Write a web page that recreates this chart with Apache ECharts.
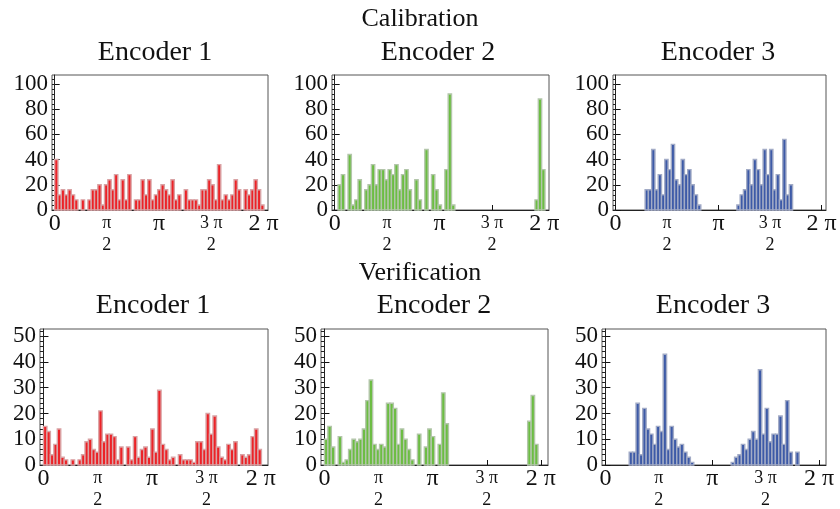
<!DOCTYPE html>
<html>
<head>
<meta charset="utf-8">
<script src="https://cdn.jsdelivr.net/npm/echarts@6/dist/echarts.min.js"></script>
<style>
  html, body { margin: 0; padding: 0; background: #fff; }
  #chart { width: 840px; height: 509px; }
</style>
</head>
<body>
<div id="chart"></div>
<script>
// histogram counts, bins of 0.1 rad starting at 0
var binWidth = 0.1;

var calib1 = [40, 12, 16, 12, 16, 12, 8, 0, 8, 0, 8, 16, 16, 20, 4, 20, 24, 16, 28, 8,
  24, 8, 28, 0, 8, 8, 24, 12, 24, 8, 12, 16, 20, 16, 12, 24, 8, 12, 0, 16,
  8, 8, 8, 4, 16, 16, 24, 20, 8, 36, 8, 12, 8, 12, 24, 16, 0, 16, 12, 16, 24, 16, 4];
var calib2 = [0, 20, 28, 0, 44, 4, 8, 24, 0, 16, 20, 36, 20, 32, 32, 24, 32, 28, 36, 16,
  28, 32, 16, 0, 24, 8, 0, 48, 0, 28, 16, 4, 0, 32, 92, 4,
  0, 0, 0, 0, 0, 0, 0, 0, 0, 0, 0, 0, 0, 0, 0, 0, 0, 0, 0, 0, 0, 0, 0, 0, 8, 88, 32];
var calib3 = [0, 0, 0, 0, 0, 0, 0, 0, 0,
  16, 16, 48, 16, 28, 12, 40, 32, 52, 24, 20, 40, 28, 32, 20, 12, 4,
  0, 0, 0, 0, 0, 0, 0, 0, 0, 0, 0,
  4, 12, 16, 32, 20, 40, 32, 20, 48, 28, 48, 16, 28, 8, 56, 12, 20,
  0, 0, 0, 0, 0, 0, 0, 0, 0];

var verif1 = [15, 13, 4, 8, 14, 3, 2, 0, 2, 0, 2, 4, 9, 10, 6, 5, 21, 9, 12, 12,
  11, 2, 7, 0, 7, 2, 11, 3, 6, 7, 3, 14, 5, 29, 8, 6, 2, 3, 0, 4,
  2, 2, 2, 1, 9, 9, 6, 20, 12, 19, 7, 3, 2, 8, 6, 9, 0, 4, 3, 4, 11, 14, 6];
var verif2 = [10, 15, 7, 0, 11, 1, 2, 6, 10, 9, 10, 14, 25, 33, 8, 6, 8, 7, 24, 24,
  22, 8, 14, 10, 6, 2, 0, 12, 0, 7, 14, 11, 0, 8, 28, 16,
  0, 0, 0, 0, 0, 0, 0, 0, 0, 0, 0, 0, 0, 0, 0, 0, 0, 0, 0, 0, 0, 0, 0, 17, 27, 8, 0];
var verif3 = [0, 0, 0, 0, 0, 0, 0,
  5, 5, 24, 4, 22, 14, 12, 8, 15, 13, 43, 6, 15, 10, 7, 8, 5, 3, 1,
  0, 0, 0, 0, 0, 0, 0, 0, 0, 0, 0,
  1, 3, 4, 8, 6, 10, 13, 10, 37, 12, 22, 9, 12, 12, 19, 8, 25, 5,
  0, 5, 0, 0, 0, 0, 0, 0];

var encoderNames = ['Encoder 1', 'Encoder 2', 'Encoder 3'];
var rowNames = ['Calibration', 'Verification'];
var xTickValues = [0, Math.PI / 2, Math.PI, 3 * Math.PI / 2, 2 * Math.PI];
var xTickLabels = ['0', 'π/2', 'π', '3 π/2', '2 π'];
var calibYLabels = [0, 20, 40, 60, 80, 100];
var calibYMinor = [0, 4, 8, 12, 16, 20, 24, 28, 32, 36, 40, 44, 48, 52, 56, 60, 64, 68, 72, 76, 80, 84, 88, 92, 96, 100, 104];
var verifYLabels = [0, 10, 20, 30, 40, 50];
var verifYMinor = [0, 2, 4, 6, 8, 10, 12, 14, 16, 18, 20, 22, 24, 26, 28, 30, 32, 34, 36, 38, 40, 42, 44, 46, 48, 50, 52];

var fills = ['#ec2227', '#6cbd43', '#3d5aa7'];
var edges = ['#d9a3a5', '#b3c6aa', '#a2abc6'];
var serif = "'Liberation Serif', 'DejaVu Serif', serif";

var panels = [
  { data: calib1, enc: 0, row: 0, left: 52, width: 216 },
  { data: calib2, enc: 1, row: 0, left: 332, width: 217 },
  { data: calib3, enc: 2, row: 0, left: 613, width: 213 },
  { data: verif1, enc: 0, row: 1, left: 40, width: 228 },
  { data: verif2, enc: 1, row: 1, left: 321, width: 227 },
  { data: verif3, enc: 2, row: 1, left: 602, width: 224 }
];
var rows = [
  { top: 75, height: 135, yMax: 107, labels: calibYLabels, minor: calibYMinor, xMin: -0.08, xMax: 6.42, titleY: 19, encY: 53, encX: [155, 438, 718] },
  { top: 329, height: 141, yMax: 52.8, labels: verifYLabels, minor: verifYMinor, xMin: -0.1, xMax: 6.49, titleY: 273, encY: 306, encX: [153, 434, 713] }
];

function piLabel(value) {
  var i = 0;
  for (var k = 0; k < xTickValues.length; k++) {
    if (Math.abs(xTickValues[k] - value) < 1e-6) i = k;
  }
  var parts = xTickLabels[i].split('/');
  if (parts.length > 1) return '{n|' + parts[0] + '}\n{d|' + parts[1] + '}';
  return '{b|' + parts[0] + '}';
}

function barRenderer(fill, edge) {
  return function (params, api) {
    var x0 = api.value(0);
    var v = api.value(1);
    if (!v) return;
    var p0 = api.coord([x0, 0]);
    var p1 = api.coord([x0 + binWidth, v]);
    return {
      type: 'rect',
      shape: { x: p0[0], y: p1[1], width: p1[0] - p0[0], height: p0[1] - p1[1] },
      style: { fill: fill, stroke: edge, lineWidth: 1.4 }
    };
  };
}

var grid = [], xAxis = [], yAxis = [], series = [], texts = [];

panels.forEach(function (p, i) {
  var r = rows[p.row];
  grid.push({
    left: p.left, width: p.width, top: r.top, height: r.height,
    show: true, borderColor: '#555', borderWidth: 1, backgroundColor: 'transparent'
  });
  xAxis.push({
    type: 'value', gridIndex: i, min: r.xMin, max: r.xMax,
    axisLine: { show: true, onZero: false, lineStyle: { color: '#222', width: 1 } },
    axisTick: { show: true, inside: true, length: 5, customValues: xTickValues, lineStyle: { color: '#111' } },
    axisLabel: {
      customValues: xTickValues, margin: 2, formatter: piLabel, color: '#111',
      rich: {
        b: { fontFamily: serif, fontSize: 24, lineHeight: 24, color: '#111' },
        n: { fontFamily: serif, fontSize: 18, lineHeight: 23, color: '#111' },
        d: { fontFamily: serif, fontSize: 18, lineHeight: 20, color: '#111' }
      }
    },
    splitLine: { show: false }
  });
  yAxis.push({
    type: 'value', gridIndex: i, position: 'left', min: 0, max: r.yMax,
    axisLine: { show: true, lineStyle: { color: '#222', width: 1 } },
    axisTick: { show: true, inside: true, length: 5, customValues: r.labels, lineStyle: { color: '#111' } },
    axisLabel: { customValues: r.labels, margin: 4, fontFamily: serif, fontSize: 23, color: '#111' },
    splitLine: { show: false }
  });
  yAxis.push({
    type: 'value', gridIndex: i, position: 'left', min: 0, max: r.yMax,
    axisLine: { show: false },
    axisTick: { show: true, inside: true, length: 3, customValues: r.minor, lineStyle: { color: '#222' } },
    axisLabel: { show: false },
    splitLine: { show: false }
  });
  series.push({
    type: 'custom',
    xAxisIndex: i,
    yAxisIndex: i * 2,
    renderItem: barRenderer(fills[p.enc], edges[p.enc]),
    data: p.data.map(function (v, k) { return [k * binWidth, v]; }),
    z: 1
  });
  texts.push({
    type: 'text', x: r.encX[p.enc], y: r.encY,
    style: { text: encoderNames[p.enc], fontFamily: serif, fontSize: 28, fill: '#111', align: 'center', verticalAlign: 'middle' }
  });
});

rows.forEach(function (r, k) {
  texts.push({
    type: 'text', x: 420, y: r.titleY,
    style: { text: rowNames[k], fontFamily: serif, fontSize: 26, fill: '#111', align: 'center', verticalAlign: 'middle' }
  });
});

var chart = echarts.init(document.getElementById('chart'));
chart.setOption({
  animation: false,
  backgroundColor: '#fff',
  grid: grid,
  xAxis: xAxis,
  yAxis: yAxis,
  series: series,
  graphic: { elements: texts }
});
</script>
</body>
</html>
